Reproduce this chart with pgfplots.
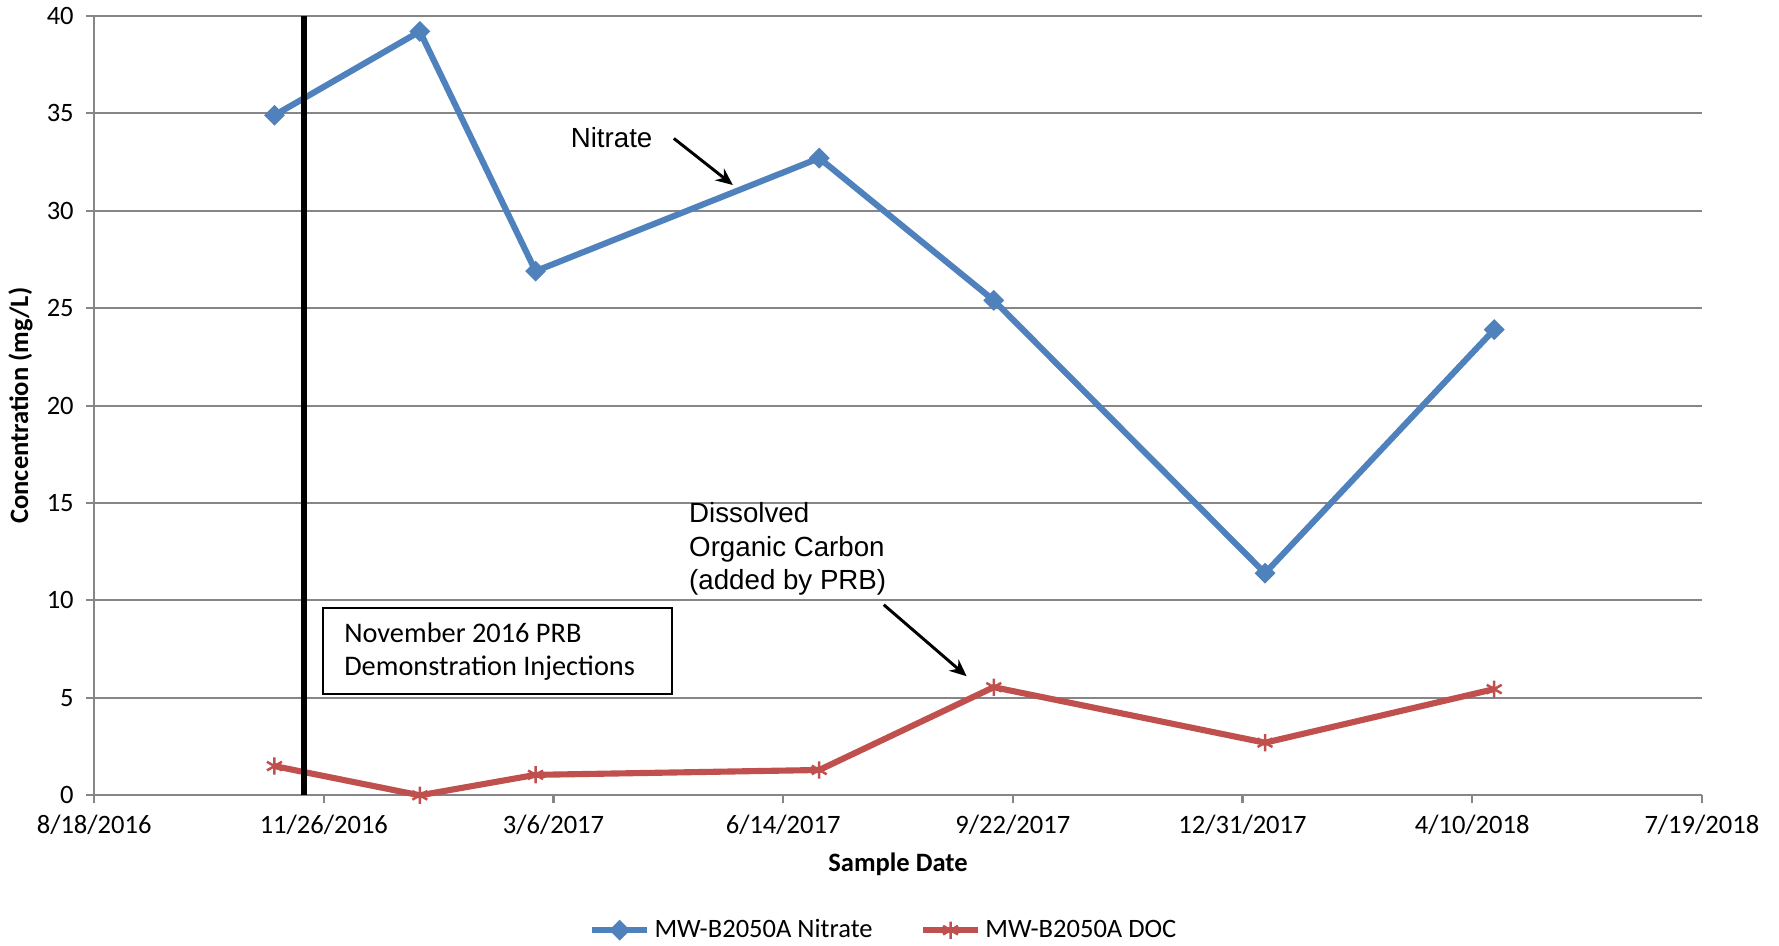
\documentclass[border=0pt]{standalone}
\usepackage{fontspec}
\setmainfont{Carlito}
\newfontfamily\arialfont{Liberation Sans}
\usepackage{pgfplots}
\pgfplotsset{compat=1.18}
\usetikzlibrary{arrows.meta}
\definecolor{nitr}{HTML}{4F81BD}
\definecolor{docc}{HTML}{C0504D}
\definecolor{gridg}{HTML}{868686}
\begin{document}
\begin{tikzpicture}
\useasboundingbox (-41.5pt,-66pt) rectangle (742.5pt,350.5pt);
\begin{axis}[
 at={(0,0)}, anchor=south west,
 scale only axis, width=708.5pt, height=343.5pt,
 xmin=0, xmax=700, ymin=0, ymax=40,
 clip=false,
 xtick={0,100,...,700},
 xticklabels={8/18/2016,11/26/2016,3/6/2017,6/14/2017,9/22/2017,12/31/2017,4/10/2018,7/19/2018},
 ytick={0,5,...,40},
 axis lines=left, axis line style={-, draw=gridg, line width=0.9pt},
 ymajorgrids, major grid style={gridg, line width=0.9pt},
 tick align=outside, major tick length=3.5pt, tick style={gridg, line width=0.9pt},
 /pgf/number format/assume math mode=true,
 ticklabel style={font=\fontsize{11.7}{14}\selectfont, text=black},
 xticklabel style={yshift=-1.5pt},
 yticklabel style={xshift=-2pt},
 xlabel={\bfseries Sample Date},
 ylabel={\bfseries Concentration (mg/L)},
 label style={font=\fontsize{11.7}{14}\selectfont},
 xlabel style={at={(axis description cs:0.5,0)}, yshift=-30.5pt, anchor=center},
 ylabel style={at={(axis description cs:0,0.5)}, yshift=32.5pt, anchor=center},
 legend columns=2,
 legend cell align=left,
 legend style={at={(0.492,-0.173)}, anchor=center, draw=none, fill=none,
   font=\fontsize{11.7}{14}\selectfont, inner sep=0pt,
   /tikz/every even column/.append style={column sep=19pt}},
 legend image code/.code={\draw[mark repeat=2,mark phase=2,#1] plot coordinates {(0pt,0pt) (12pt,0pt) (24pt,0pt)};},
]
\addplot[nitr, line width=2.7pt, mark=square*, mark size=3pt, mark options={solid, rotate=45, line width=0.5pt}]
 coordinates {(78.5,34.9) (141.8,39.2) (192.2,26.9) (315.7,32.7) (391.7,25.4) (509.8,11.4) (609.6,23.9)};
\addlegendentry{MW-B2050A Nitrate}
\addplot[docc, line width=2.7pt, mark=asterisk, mark size=3.8pt, mark options={solid, line width=1.1pt}]
 coordinates {(78.5,1.5) (141.8,0.0) (192.2,1.05) (315.7,1.3) (391.7,5.55) (509.8,2.7) (609.6,5.45)};
\addlegendentry{MW-B2050A DOC}
\draw[black, line width=2.6pt] (axis cs:91.4,0) -- (axis cs:91.4,40);
\node[font=\arialfont\fontsize{12.2}{14.75}\selectfont, inner sep=0pt] at (axis cs:225.3,33.77) {Nitrate};
\draw[black, line width=1.3pt, -{Stealth[length=7.5pt,width=6.5pt]}] (axis cs:252.4,33.71) -- (axis cs:278.1,31.32);
\node[font=\arialfont\fontsize{12.2}{14.75}\selectfont, inner sep=0pt, anchor=north west, align=left] at (axis cs:258.9,15.05) {Dissolved\\Organic Carbon\\(added by PRB)};
\draw[black, line width=1.3pt, -{Stealth[length=7.5pt,width=6.5pt]}] (axis cs:343.8,9.78) -- (axis cs:379.9,6.11);
\draw[black, line width=0.9pt] (axis cs:99.8,9.61) rectangle (axis cs:251.4,5.18);
\node[font=\fontsize{12.5}{14.5}\selectfont, inner sep=0pt, anchor=west, align=left] at (axis cs:108.7,7.37) {November 2016 PRB\\Demonstration Injections};
\end{axis}
\end{tikzpicture}
\end{document}
